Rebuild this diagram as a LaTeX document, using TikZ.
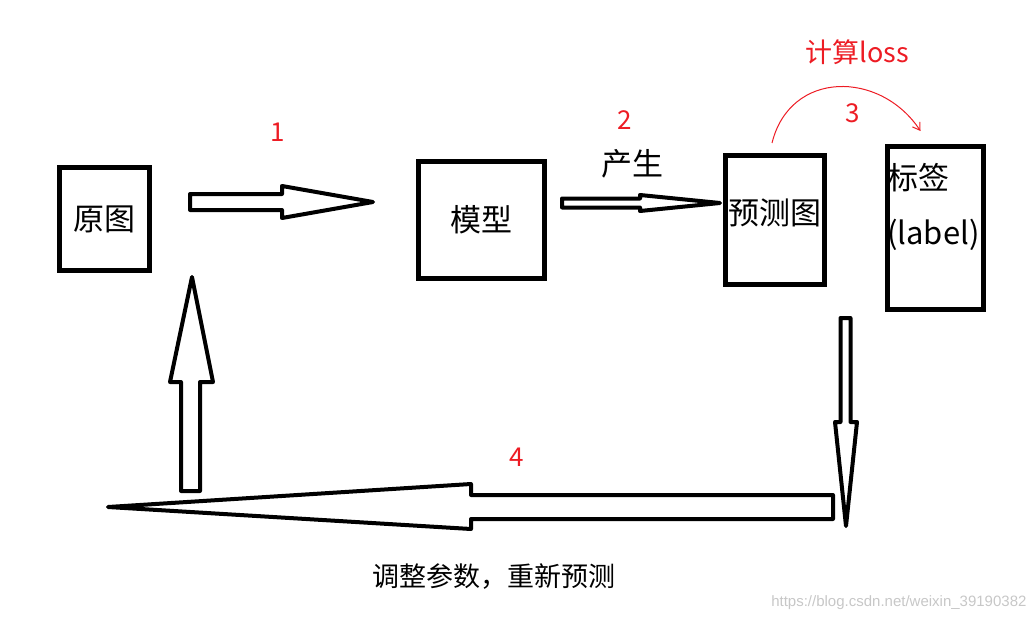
\documentclass[tikz,border=0pt]{standalone}
\usepackage{fontspec}
\setmainfont{Noto Sans CJK SC}
\newfontfamily\wmfont{Liberation Sans}
\usetikzlibrary{arrows.meta}
\definecolor{lossred}{RGB}{237,28,36}

\begin{document}
\begin{tikzpicture}[x=1pt, y=-1pt,
    box/.style={draw, line width=5pt, inner sep=0pt, font=\fontsize{31}{36}\selectfont},
    fatarrow/.style={draw, line width=4pt, line join=round},
    num/.style={text=lossred, font=\fontsize{26}{30}\selectfont},
    cjk/.style={font=\fontsize{31}{36}\selectfont}]
    \useasboundingbox (0,0) rectangle (1035,621);

    % boxes
    \node[box, minimum width=90pt, minimum height=103pt] (src) at (104.5,219) {原图};
    \node[box, minimum width=126pt, minimum height=117pt] (model) at (481.5,220) {模型};
    \node[box, minimum width=99pt, minimum height=129pt] (pred) at (775,220) {};
    \node[box, minimum width=96pt, minimum height=163pt] (lab) at (935.5,228) {};
    \node[cjk, inner sep=0pt] (predtxt) at (775,213) {预测图};
    \node[cjk, inner sep=0pt, anchor=west, align=left, font=\fontsize{31}{55}\selectfont] (labtxt) at (887,207) {标签\\(label)};

    % block arrows
    \draw[fatarrow] (190,194) -- (282,194) -- (282,186) -- (373,202) -- (282,218) -- (282,210) -- (190,210) -- cycle;
    \draw[fatarrow] (562,198.5) -- (640,198.5) -- (640,195) -- (720,203) -- (640,211) -- (640,207.5) -- (562,207.5) -- cycle;
    \draw[fatarrow] (840.5,318) -- (850.5,318) -- (850.5,422) -- (857,422) -- (846,526) -- (835,422) -- (840.5,422) -- cycle;
    \draw[fatarrow] (833,495) -- (471,495) -- (471,484) -- (108,507) -- (471,529) -- (471,519) -- (833,519) -- cycle;
    \draw[fatarrow] (181,491) -- (181,382) -- (170,382) -- (192,277) -- (213,382) -- (200,382) -- (200,491) -- cycle;

    % labels
    \node[num] (n1) at (278,132) {1};
    \node[num] (n2) at (625,120) {2};
    \node[num] (n3) at (853,113) {3};
    \node[num] (n4) at (517,457) {4};
    \node[cjk] (gen) at (632,164) {产生};
    \node[text=lossred, font=\fontsize{27}{30}\selectfont] (loss) at (857,52) {计算loss};
    \node[font=\fontsize{27}{30}\selectfont] (adjust) at (494,577) {调整参数，重新预测};
    \node[anchor=east, text=black!22, font=\wmfont\fontsize{15}{18}\selectfont] (wm) at (1030,603) {https://blog.csdn.net/weixin\_39190382};

    % loss curve
    \draw[lossred, line width=1pt, -{Straight Barb[length=7pt,width=9pt]}]
        ([xshift=-3pt,yshift=10pt]pred.north) .. controls (790,70) and (880,70) .. ([xshift=-15pt,yshift=13pt]lab.north);
\end{tikzpicture}
\end{document}
